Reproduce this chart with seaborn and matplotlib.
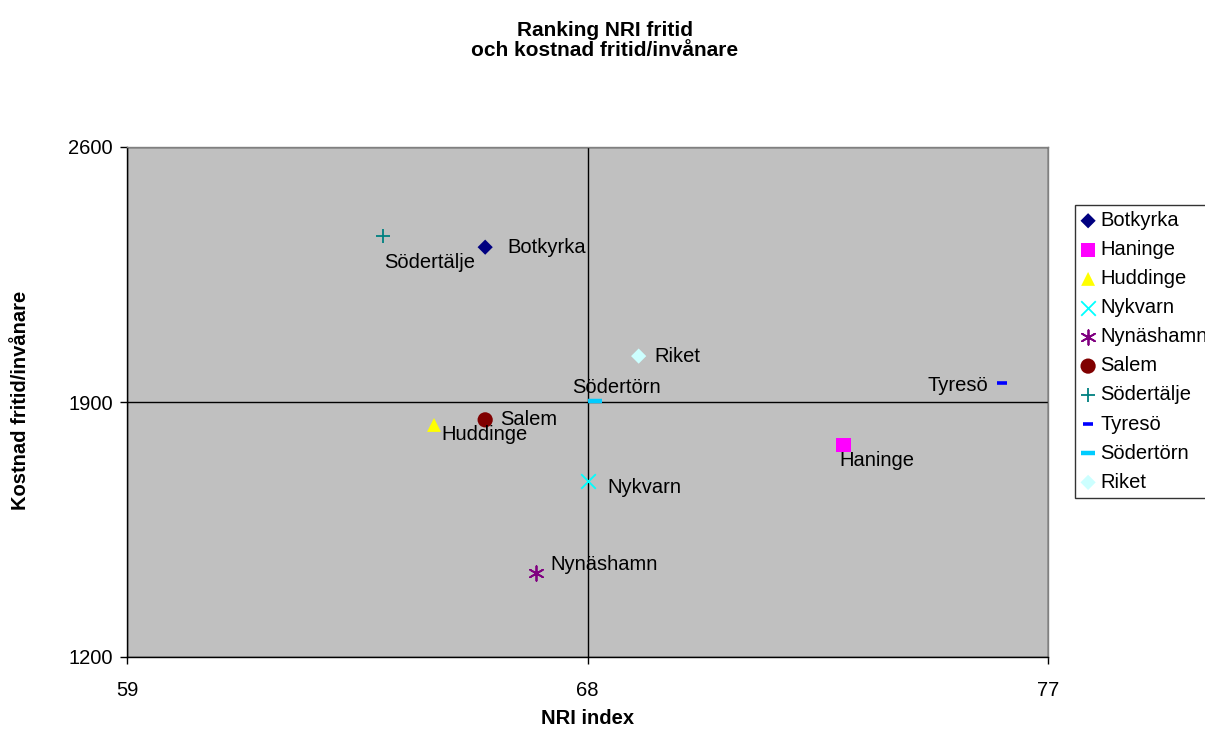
import matplotlib
matplotlib.use("Agg")
import matplotlib.pyplot as plt
import seaborn as sns
import pandas as pd

names = ["Botkyrka", "Haninge", "Huddinge", "Nykvarn", "Nynäshamn", "Salem",
         "Södertälje", "Tyresö", "Södertörn", "Riket"]
nri = [66.0, 73.0, 65.0, 68.0, 67.0, 66.0, 64.0, 76.1, 68.15, 69.0]
kostnad = [2325, 1782, 1837, 1683, 1431, 1851, 2356, 1952, 1903, 2026]
colors = ["#000080", "#FF00FF", "#FFFF00", "#00FFFF", "#800080", "#800000",
          "#008080", "#0000FF", "#00CCFF", "#CCFFFF"]
markers = ["D", "s", "^", "x", (6, 2, 0), "o", "+", "_", "_", "D"]
sizes = [60, 110, 100, 110, 110, 120, 110, 45, 95, 60]
lws = [0, 0, 0, 1.3, 1.3, 0, 1.3, 2.6, 3.2, 0]
# label offsets (points) and alignment
offs = [(16, 0, "left", "center"), (-3, -11, "left", "center"), (5, -7, "left", "center"),
        (14, -5, "left", "center"), (10, 6, "left", "center"), (11, 0, "left", "center"),
        (1, -19, "left", "center"), (-10, -2, "right", "center"), (15, 10, "center", "center"),
        (11, 0, "left", "center")]

df = pd.DataFrame({"name": names, "nri": nri, "kostnad": kostnad})

sns.set_style("white")
plt.rcParams["font.family"] = ["Liberation Sans", "DejaVu Sans"]
plt.rcParams["text.color"] = "black"
plt.rcParams["axes.labelcolor"] = "black"
plt.rcParams["xtick.color"] = "black"
plt.rcParams["ytick.color"] = "black"

fig = plt.figure(figsize=(12.05, 7.29), dpi=100)
ax = fig.add_axes([127/1205, 1-657/729, (1048-127)/1205, (657-147)/729])
ax.set_facecolor("#C0C0C0")

for i, n in enumerate(names):
    sub = df[df["name"] == n]
    kw = dict(edgecolor="none") if lws[i] == 0 else dict(linewidth=lws[i])
    sns.scatterplot(data=sub, x="nri", y="kostnad", marker=markers[i], color=colors[i],
                    s=sizes[i], label=n, ax=ax, zorder=3, **kw)
    dx, dy, ha, va = offs[i]
    ax.annotate(n, (nri[i], kostnad[i]), xytext=(dx, dy), textcoords="offset points",
                ha=ha, va=va, fontsize=14.5, color="black", zorder=4)

ax.set_xlim(59, 77)
ax.set_ylim(1200, 2600)
ax.set_xticks([59, 68, 77])
ax.set_yticks([1200, 1900, 2600])
ax.grid(True, color="black", linewidth=1)
ax.set_axisbelow(True)
ax.tick_params(axis="both", labelsize=14.5, direction="out", length=5, width=1,
               left=True, bottom=True, colors="black")
ax.tick_params(axis="y", pad=5)
ax.tick_params(axis="x", pad=12)
for s in ["left", "bottom"]:
    ax.spines[s].set_color("black")
    ax.spines[s].set_linewidth(1)
for s in ["top", "right"]:
    ax.spines[s].set_color("#808080")
    ax.spines[s].set_linewidth(1)

ax.set_xlabel("NRI index", fontsize=14.5, fontweight="bold")
ax.set_ylabel("Kostnad fritid/invånare", fontsize=14.5, fontweight="bold")
ax.xaxis.set_label_coords(588/1205, 1-718/729, transform=fig.transFigure)
ax.yaxis.set_label_coords(21/1205, 1-400/729, transform=fig.transFigure)
ax.xaxis.label.set_va("center")
ax.yaxis.label.set_va("center")

fig.text(605/1205, 1-31/729, "Ranking NRI fritid", ha="center", va="center",
         fontsize=15, fontweight="bold")
fig.text(605/1205, 1-51/729, "och kostnad fritid/invånare", ha="center", va="center",
         fontsize=15, fontweight="bold")

leg = ax.legend(loc="upper left", bbox_to_anchor=(1075/1205, 1-205/729),
                bbox_transform=fig.transFigure, fontsize=14.5, frameon=True,
                fancybox=False, edgecolor="black", borderpad=0.3, labelspacing=0.5,
                handlelength=0.7, handletextpad=0.25, borderaxespad=0)
leg.get_frame().set_linewidth(1)

fig.savefig("out.png", dpi=100, facecolor="white")
